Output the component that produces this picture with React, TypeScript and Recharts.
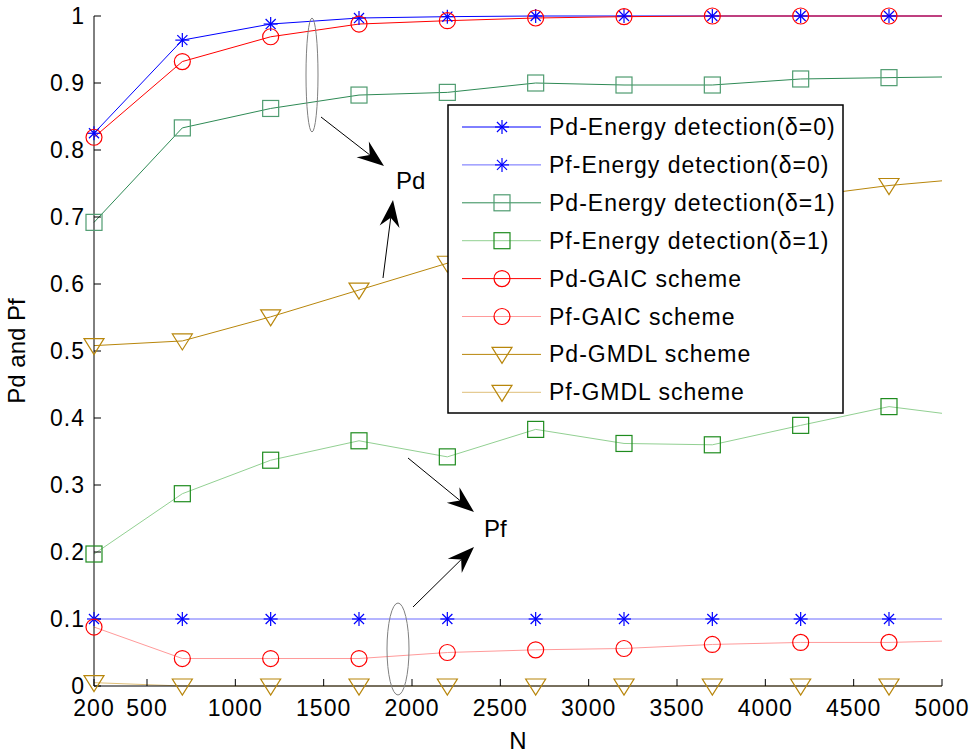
import React from "react";
import { LineChart, Line, XAxis, YAxis, Legend } from "recharts";

// sample sizes (last row = right edge of the axes, no marker there)
const N = [200, 700, 1200, 1700, 2200, 2700, 3200, 3700, 4200, 4700, 5000];
const markerN = [200, 700, 1200, 1700, 2200, 2700, 3200, 3700, 4200, 4700];

const pdEnergy0 = [0.825, 0.964, 0.988, 0.997, 0.999, 1, 1, 1, 1, 1, 1];
const pfEnergy0 = [0.1, 0.1, 0.1, 0.1, 0.1, 0.1, 0.1, 0.1, 0.1, 0.1, 0.1];
const pdEnergy1 = [0.692, 0.833, 0.862, 0.882, 0.886, 0.9, 0.897, 0.897, 0.906, 0.908, 0.909];
const pfEnergy1 = [0.197, 0.287, 0.337, 0.366, 0.342, 0.383, 0.362, 0.36, 0.389, 0.417, 0.407];
const pdGaic = [0.819, 0.932, 0.969, 0.988, 0.993, 0.997, 0.999, 1, 1, 1, 1];
const pfGaic = [0.088, 0.041, 0.041, 0.041, 0.05, 0.054, 0.056, 0.062, 0.065, 0.065, 0.067];
const pdGmdl = [0.508, 0.515, 0.551, 0.591, 0.631, 0.66, 0.685, 0.71, 0.73, 0.747, 0.754];
const pfGmdl = [0.005, 0, 0, 0, 0, 0, 0, 0, 0, 0, 0];

const xTicks = [200, 500, 1000, 1500, 2000, 2500, 3000, 3500, 4000, 4500, 5000];
const yTicks = [0, 0.1, 0.2, 0.3, 0.4, 0.5, 0.6, 0.7, 0.8, 0.9, 1];

const data = N.map((n, i) => ({
  N: n,
  pdEnergy0: pdEnergy0[i],
  pfEnergy0: pfEnergy0[i],
  pdEnergy1: pdEnergy1[i],
  pfEnergy1: pfEnergy1[i],
  pdGaic: pdGaic[i],
  pfGaic: pfGaic[i],
  pdGmdl: pdGmdl[i],
  pfGmdl: pfGmdl[i],
}));

type Shape = "star" | "square" | "circle" | "tri";

const series: { key: string; name: string; line: string; mark: string; shape: Shape }[] = [
  { key: "pdEnergy0", name: "Pd-Energy detection(δ=0)", line: "#0000ff", mark: "#0000ff", shape: "star" },
  { key: "pfEnergy0", name: "Pf-Energy detection(δ=0)", line: "#6b6bff", mark: "#0000ff", shape: "star" },
  { key: "pdEnergy1", name: "Pd-Energy detection(δ=1)", line: "#2e8a55", mark: "#4f9c70", shape: "square" },
  { key: "pfEnergy1", name: "Pf-Energy detection(δ=1)", line: "#92d092", mark: "#1f8c1f", shape: "square" },
  { key: "pdGaic", name: "Pd-GAIC scheme", line: "#ff0000", mark: "#ff0000", shape: "circle" },
  { key: "pfGaic", name: "Pf-GAIC scheme", line: "#ff9a9a", mark: "#ff0000", shape: "circle" },
  { key: "pdGmdl", name: "Pd-GMDL scheme", line: "#b8860b", mark: "#b8860b", shape: "tri" },
  { key: "pfGmdl", name: "Pf-GMDL scheme", line: "#dfbf78", mark: "#b8860b", shape: "tri" },
];

const FONT = '"Liberation Sans", Arial, sans-serif';

const Marker = ({ shape, x, y, color }: { shape: Shape; x: number; y: number; color: string }) => {
  if (shape === "star") {
    const r = 7;
    const d = r * 0.72;
    return (
      <g stroke={color} strokeWidth={1.2}>
        <line x1={x - r} y1={y} x2={x + r} y2={y} />
        <line x1={x} y1={y - r} x2={x} y2={y + r} />
        <line x1={x - d} y1={y - d} x2={x + d} y2={y + d} />
        <line x1={x - d} y1={y + d} x2={x + d} y2={y - d} />
      </g>
    );
  }
  if (shape === "square") {
    return <rect x={x - 8} y={y - 8} width={16} height={16} fill="none" stroke={color} strokeWidth={1.2} />;
  }
  if (shape === "circle") {
    return <circle cx={x} cy={y} r={8} fill="none" stroke={color} strokeWidth={1.2} />;
  }
  return (
    <path
      d={`M${x - 10},${y - 7} L${x + 10},${y - 7} L${x},${y + 9} Z`}
      fill="none"
      stroke={color}
      strokeWidth={1.2}
    />
  );
};

const makeDot = (shape: Shape, color: string) => (props: any) => {
  const { cx, cy, index, payload } = props;
  if (cx == null || cy == null || !markerN.includes(payload.N)) return <g key={`d${index}`} />;
  return (
    <g key={`d${index}`}>
      <Marker shape={shape} x={cx} y={cy} color={color} />
    </g>
  );
};

// legend keeps the plotting order of the series
const LegendBox = ({ payload }: any) => {
  const keys = (payload || []).map((p: any) => p.dataKey);
  const items = series.filter((s) => keys.length === 0 || keys.includes(s.key));
  return (
    <svg width={397} height={310} style={{ display: "block" }}>
      <rect x={1} y={1} width={395} height={308} fill="#fff" stroke="#000" strokeWidth={1.5} />
      {items.map((s, i) => {
        const cy = 23 + i * 37.9;
        return (
          <g key={s.key}>
            <line x1={15} y1={cy} x2={94} y2={cy} stroke={s.line} strokeWidth={1} />
            <Marker shape={s.shape} x={55} y={cy} color={s.mark} />
            <text x={102} y={cy + 8} fontSize={23} letterSpacing={1} fontFamily={FONT} fill="#000">
              {s.name}
            </text>
          </g>
        );
      })}
    </svg>
  );
};

const Arrow = ({ x1, y1, x2, y2 }: { x1: number; y1: number; x2: number; y2: number }) => {
  const dx = x2 - x1;
  const dy = y2 - y1;
  const len = Math.hypot(dx, dy);
  const ux = dx / len;
  const uy = dy / len;
  const px = -uy;
  const py = ux;
  const L = 27;
  const W = 10;
  const notch = 18;
  const bx = x2 - ux * L;
  const by = y2 - uy * L;
  const nx = x2 - ux * notch;
  const ny = y2 - uy * notch;
  return (
    <g>
      <line x1={x1} y1={y1} x2={nx} y2={ny} stroke="#000" strokeWidth={1} />
      <path
        d={`M${x2},${y2} L${bx + px * W},${by + py * W} L${nx},${ny} L${bx - px * W},${by - py * W} Z`}
        fill="#000"
      />
    </g>
  );
};

const YTitle = (props: any) => {
  const vb = props.viewBox || { y: 16, height: 670 };
  const cy = vb.y + vb.height / 2;
  return (
    <text
      x={16}
      y={cy}
      transform={`rotate(-90 16 ${cy})`}
      textAnchor="middle"
      dominantBaseline="central"
      fontSize={24}
      fontFamily={FONT}
      fill="#000"
    >
      Pd and Pf
    </text>
  );
};

export default function App() {
  const tickStyle = { fill: "#000", fontSize: 23, letterSpacing: 1, fontFamily: FONT };
  return (
    <div style={{ position: "absolute", left: 0, top: 0, width: 972, height: 753, background: "#fff" }}>
      <LineChart width={972} height={753} data={data} margin={{ top: 16, right: 30, bottom: 0, left: 0 }}>
        <XAxis
          dataKey="N"
          type="number"
          domain={[200, 5000]}
          ticks={xTicks}
          interval={0}
          height={67}
          tickSize={-7}
          tickMargin={21}
          tick={tickStyle}
          stroke="#000"
          tickLine={{ stroke: "#000" }}
          label={{ value: "N", position: "insideBottom", offset: 4, fill: "#000", fontSize: 24, fontFamily: FONT }}
        />
        <XAxis
          xAxisId="top"
          orientation="top"
          dataKey="N"
          type="number"
          domain={[200, 5000]}
          ticks={xTicks}
          interval={0}
          height={0}
          tickSize={-7}
          tick={false}
          stroke="#000"
          tickLine={{ stroke: "#000" }}
        />
        <YAxis
          type="number"
          domain={[0, 1]}
          ticks={yTicks}
          interval={0}
          width={94}
          tickSize={-7}
          tickMargin={16}
          tick={tickStyle}
          tickFormatter={(v: number) => String(+v.toFixed(1))}
          stroke="#000"
          tickLine={{ stroke: "#000" }}
          label={YTitle}
        />
        <YAxis
          yAxisId="right"
          orientation="right"
          type="number"
          domain={[0, 1]}
          ticks={yTicks}
          interval={0}
          width={0}
          tickSize={-7}
          tick={false}
          stroke="#000"
          tickLine={{ stroke: "#000" }}
        />
        {series.map((s) => (
          <Line
            key={s.key}
            dataKey={s.key}
            name={s.name}
            type="linear"
            stroke={s.line}
            strokeWidth={1}
            dot={makeDot(s.shape, s.mark)}
            activeDot={false}
            isAnimationActive={false}
          />
        ))}
        <Legend
          layout="horizontal"
          verticalAlign="middle"
          width={397}
          height={310}
          content={LegendBox}
          wrapperStyle={{ left: 447, top: 104, width: 397, height: 310 }}
        />
      </LineChart>
      <svg
        width={972}
        height={753}
        style={{ position: "absolute", left: 0, top: 0, pointerEvents: "none" }}
      >
        <ellipse cx={312} cy={75} rx={6} ry={57} fill="none" stroke="#808080" strokeWidth={1} />
        <ellipse cx={398} cy={649} rx={11} ry={46} fill="none" stroke="#808080" strokeWidth={1} />
        <Arrow x1={321} y1={117} x2={384} y2={166} />
        <Arrow x1={383} y1={278} x2={393} y2={200} />
        <Arrow x1={408} y1={458} x2={474} y2={512} />
        <Arrow x1={413} y1={607} x2={474} y2={547} />
        <text x={396} y={189} fontSize={24} fontFamily={FONT} fill="#000">
          Pd
        </text>
        <text x={484} y={537} fontSize={24} fontFamily={FONT} fill="#000">
          Pf
        </text>
      </svg>
    </div>
  );
}
